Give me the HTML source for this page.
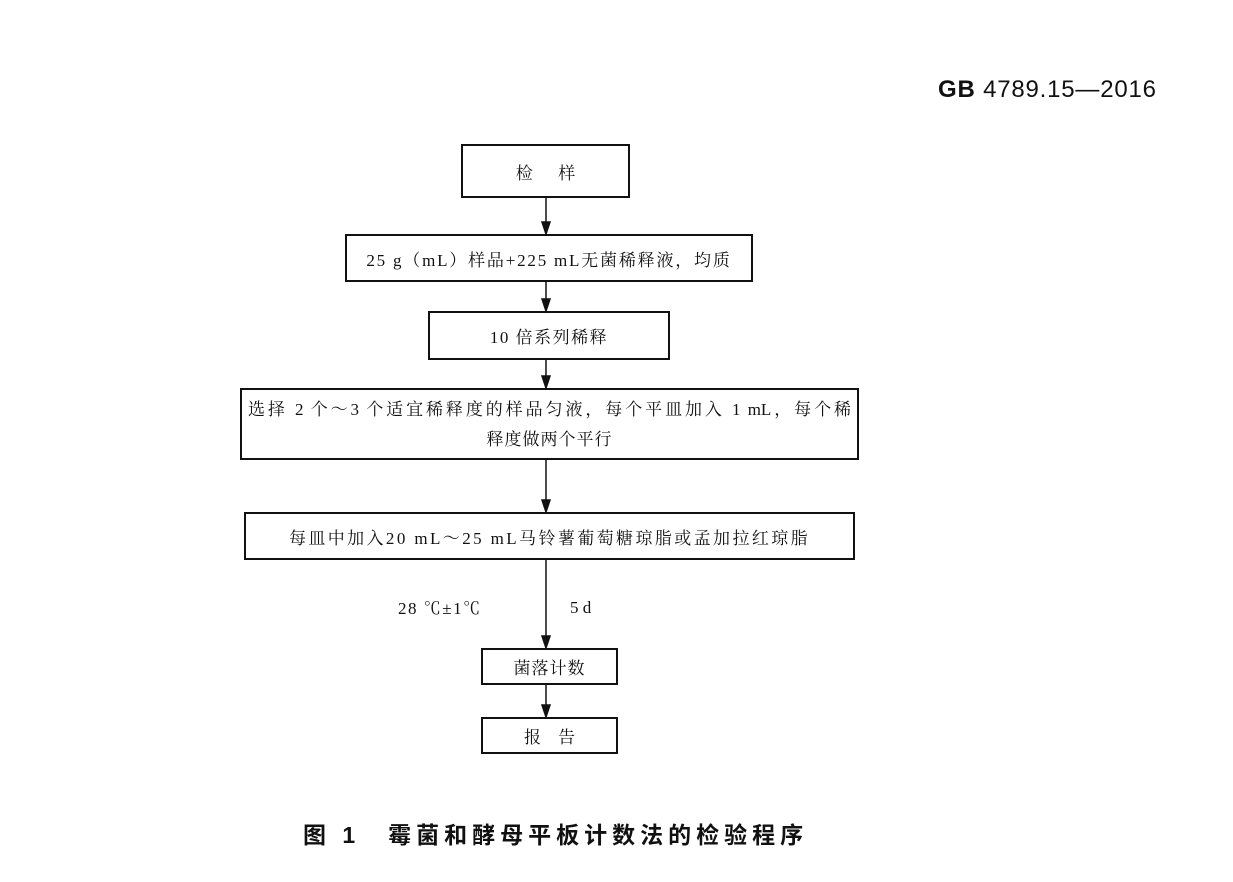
<!DOCTYPE html>
<html><head><meta charset="utf-8"><style>
body{margin:0;background:#fff;width:1233px;height:882px;position:relative;overflow:hidden;font-family:"Liberation Serif","Noto Serif CJK SC",serif;color:#111}
.b{position:absolute;border:2px solid #111;box-sizing:border-box;display:flex;align-items:center;justify-content:center;font-size:17px;text-align:center}
.t{position:absolute;white-space:nowrap}
</style></head><body>
<div class="t" style="left:938px;top:76px;font-size:24px;letter-spacing:0.8px;font-weight:bold;font-family:'Liberation Sans','Noto Sans CJK SC',sans-serif">GB <span style="font-weight:normal">4789.15—2016</span></div>
<div class="b" style="left:461px;top:144px;width:169px;height:54px">检&emsp;&ensp;样</div>
<div class="b" style="left:345px;top:234px;width:408px;height:48px;letter-spacing:1.8px">25 g（mL）样品+225 mL无菌稀释液，均质</div>
<div class="b" style="left:428px;top:311px;width:242px;height:49px;letter-spacing:1.5px">10 倍系列稀释</div>
<div class="b" style="left:240px;top:388px;width:619px;height:72px;line-height:30px;display:block;padding-top:5px">
<div style="margin:0 6px;text-align:justify;text-align-last:justify">选择 2 个～3 个适宜稀释度的样品匀液，每个平皿加入 1 mL，每个稀</div>
<div style="letter-spacing:1px">释度做两个平行</div></div>
<div class="b" style="left:244px;top:512px;width:611px;height:48px;letter-spacing:2.4px">每皿中加入20 mL～25 mL马铃薯葡萄糖琼脂或孟加拉红琼脂</div>
<div class="b" style="left:481px;top:648px;width:137px;height:37px;letter-spacing:1px">菌落计数</div>
<div class="b" style="left:481px;top:717px;width:137px;height:37px">报&emsp;告</div>
<div class="t" style="left:398px;top:594px;font-size:17px;letter-spacing:1.5px">28 ℃±1℃</div>
<div class="t" style="left:570px;top:598px;font-size:17px">5 d</div>
<svg width="1233" height="882" style="position:absolute;left:0;top:0">
<g stroke="#111" stroke-width="1.5" fill="#111">
<line x1="546" y1="198" x2="546" y2="226"/><polygon points="542,222 550,222 546,234"/>
<line x1="546" y1="282" x2="546" y2="303"/><polygon points="542,299 550,299 546,311"/>
<line x1="546" y1="360" x2="546" y2="380"/><polygon points="542,376 550,376 546,388"/>
<line x1="546" y1="460" x2="546" y2="504"/><polygon points="542,500 550,500 546,512"/>
<line x1="546" y1="560" x2="546" y2="640"/><polygon points="542,636 550,636 546,648"/>
<line x1="546" y1="685" x2="546" y2="709"/><polygon points="542,705 550,705 546,717"/>
</g></svg>
<div class="t" style="left:303px;top:816px;font-size:23px;font-weight:bold;letter-spacing:5px;font-family:'Liberation Sans','Noto Sans CJK SC',sans-serif">图 1&ensp; 霉菌和酵母平板计数法的检验程序</div>
</body></html>
